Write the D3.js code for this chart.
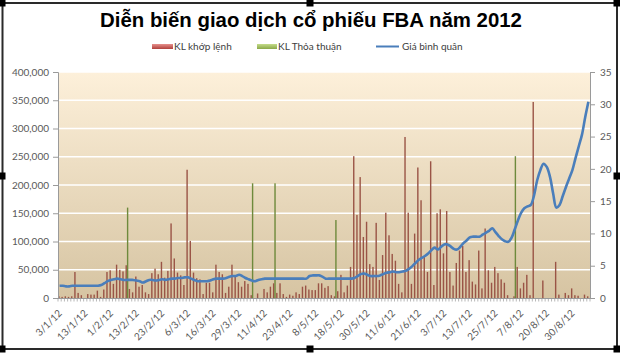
<!DOCTYPE html>
<html><head><meta charset="utf-8">
<script src="https://cdn.jsdelivr.net/npm/d3@7"></script>
<style>body{margin:0;background:#fff}</style>
</head><body><svg id="c" width="620" height="353"></svg>
<script>
const chartTitle = "Diễn biến giao dịch cổ phiếu FBA năm 2012";
const seriesNames = ["KL khớp lệnh", "KL Thỏa thuận", "Giá bình  quân"];
const tickLabels = ["3/1/12","13/1/12","1/2/12","13/2/12","23/2/12","6/3/12","16/3/12","29/3/12","11/4/12","23/4/12","8/5/12","18/5/12","30/5/12","11/6/12","21/6/12","3/7/12","13/7/12","25/7/12","7/8/12","20/8/12","30/8/12"];
const leftTicks = [0,50000,100000,150000,200000,250000,300000,350000,400000];
const rightTicks = [0,5,10,15,20,25,30,35];

// KL khớp lệnh (matched volume), one per trading day
const klKhopLenh = [
3000,2000,3000,2000,3000,46000,9000,5000,0,7000,
6000,6000,13000,2000,15000,46000,49000,25000,59000,50000,
47000,58000,16000,10000,38000,20000,23000,10000,7000,44000,
52000,42000,64000,36000,48000,132000,70000,45000,40000,23000,
227000,101000,45000,35000,33000,7000,27000,27000,10000,59000,
46000,42000,9000,20000,59000,40000,28000,20000,30000,25000,
5000,0,8000,0,16000,10000,20000,26000,9000,26000,
7000,2000,6000,4000,10000,7000,20000,22000,15000,14000,
14000,26000,26000,18000,
21000,5000,3000,12000,41000,
10000,22000,55000,251000,147000,214000,108000,135000,60000,55000,
133000,32000,76000,151000,111000,78000,66000,25000,10000,285000,
151000,25000,114000,231000,173000,73000,46000,242000,23000,150000,
157000,79000,154000,46000,22000,62000,84000,92000,46000,67000,
29000,24000,84000,17000,123000,49000,27000,55000,44000,33000,
27000,5000,0,3000,55000,17000,27000,41000,5000,347000,
0,0,31000,0,0,0,64000,6000,0,9000,
5000,17000,5000,4000,0,6000,3000];

// KL Thỏa thuận (negotiated volume): only on a few days
const thoaThuanDays = [21, 60, 67, 86, 142];
const thoaThuanValues = [160000, 203000, 203000, 138000, 251000];

// Giá bình quân (average price)
const giaBinhQuan = [
1.9,1.9,1.8,1.8,1.9,1.9,1.9,1.9,1.9,1.9,1.9,1.9,1.9,
2.0,2.3,2.6,2.8,2.9,3.0,2.9,2.8,
2.8,2.8,2.8,2.7,2.6,2.4,2.6,
2.8,2.8,2.7,2.8,2.9,2.8,2.9,3.0,
3.0,3.1,3.1,3.2,3.2,3.0,
2.8,2.6,2.6,2.6,2.6,2.7,
2.9,3.0,3.0,3.0,3.1,
3.3,3.4,3.4,3.6,3.4,3.1,2.9,2.7,2.6,
2.8,2.9,
3.0,3.0,3.0,3.0,3.0,3.0,3.0,3.0,3.0,3.0,3.0,3.0,3.0,3.0,
3.4,3.5,3.5,3.5,3.3,3.0,
3.0,3.0,3.0,3.0,3.0,3.0,3.0,3.0,
3.1,3.4,3.7,3.8,3.6,3.4,3.4,3.4,3.5,3.7,
3.9,4.0,4.1,4.0,4.0,4.1,4.2,4.5,4.9,5.4,
5.9,6.2,6.5,6.9,7.4,7.8,7.5,7.9,8.3,8.3,
8.0,7.6,7.5,7.9,8.5,8.9,9.4,9.5,9.5,9.5,
9.8,10.1,10.4,10.8,10.2,9.6,9.1,8.8,8.7,9.3,
10.6,12.0,13.2,13.9,14.2,14.4,15.8,18.2,19.8,20.8,
20.3,18.8,16.2,14.0,14.4,15.8,17.2,18.5,19.8,21.7,
23.5,25.3,28.0,30.4];

const N = klKhopLenh.length;
const labelEvery = 8;

const svg = d3.select("#c");
const defs = svg.append("defs");
const bg = defs.append("linearGradient").attr("id","bg").attr("x1",0).attr("y1",0).attr("x2",0).attr("y2",1);
bg.append("stop").attr("offset","0%").attr("stop-color","#fdf0da");
bg.append("stop").attr("offset","100%").attr("stop-color","#d6c4a2");
const gr = defs.append("linearGradient").attr("id","gr").attr("x1",0).attr("y1",0).attr("x2",0).attr("y2",1);
gr.append("stop").attr("offset","0%").attr("stop-color","#e6908c");
gr.append("stop").attr("offset","100%").attr("stop-color","#b0403c");
const gg = defs.append("linearGradient").attr("id","gg").attr("x1",0).attr("y1",0).attr("x2",0).attr("y2",1);
gg.append("stop").attr("offset","0%").attr("stop-color","#c4dc8a");
gg.append("stop").attr("offset","100%").attr("stop-color","#8aa848");

const L = 58, R = 590, T = 72, B = 298;
const x = d3.scaleBand().domain(d3.range(N)).range([L, R]);
const yL = d3.scaleLinear().domain([0, 400000]).range([B, T]);
const yR = d3.scaleLinear().domain([0, 35]).range([B, T]);
const bw = x.bandwidth();

// plot background
svg.append("rect").attr("x", L).attr("y", T).attr("width", R - L).attr("height", B - T).attr("fill", "url(#bg)");
// gridlines
svg.append("g").selectAll("line").data(leftTicks.slice(1)).join("line")
  .attr("x1", L).attr("x2", R).attr("y1", d => yL(d)).attr("y2", d => yL(d))
  .attr("stroke", "#ffffff").attr("stroke-width", 1.5);

// bars
const barW = 1.4;
svg.append("g").selectAll("rect").data(klKhopLenh.map((v,i)=>({v,i})).filter(d=>d.v>0)).join("rect")
  .attr("x", d => x(d.i) + bw/2 - barW)
  .attr("y", d => yL(d.v)).attr("width", barW).attr("height", d => B - yL(d.v))
  .attr("fill", "#9a5446");
svg.append("g").selectAll("rect").data(thoaThuanDays.map((d,k)=>({i:d, v:thoaThuanValues[k]}))).join("rect")
  .attr("x", d => x(d.i) + bw/2)
  .attr("y", d => yL(d.v)).attr("width", barW).attr("height", d => B - yL(d.v))
  .attr("fill", "#6e8a3c");

// price line
const line = d3.line().x((d,i) => x(i) + bw/2).y(d => yR(d)).curve(d3.curveCatmullRom.alpha(0.5));
svg.append("path").datum(giaBinhQuan).attr("d", line).attr("fill","none")
  .attr("stroke","#4a7ebb").attr("stroke-width",2.6).attr("stroke-linejoin","round");

// axes
const axisColor = "#9a9a9a", textColor = "#595959", font = "Lato, 'Open Sans', sans-serif";
const gl = svg.append("g").attr("transform", `translate(${L},0)`)
  .call(d3.axisLeft(yL).tickValues(leftTicks).tickFormat(d3.format(",")).tickSize(5).tickPadding(4));
const gRt = svg.append("g").attr("transform", `translate(${R},0)`)
  .call(d3.axisRight(yR).tickValues(rightTicks).tickSize(5).tickPadding(5));
[gl, gRt].forEach(g => {
  g.select(".domain").attr("stroke", axisColor);
  g.selectAll(".tick line").attr("stroke", axisColor);
  g.selectAll("text").attr("fill", textColor).style("font-family", font).style("font-size", "10px");
});

// category axis
const gb = svg.append("g");
gb.append("line").attr("x1", L).attr("x2", R).attr("y1", B + 0.5).attr("y2", B + 0.5).attr("stroke", axisColor);
gb.selectAll("line.t").data(d3.range(N + 1)).join("line").attr("class","t")
  .attr("x1", i => L + i * bw).attr("x2", i => L + i * bw)
  .attr("y1", B).attr("y2", B + 3.5).attr("stroke", axisColor).attr("stroke-width", 0.7);
gb.selectAll("text").data(tickLabels).join("text")
  .attr("transform", (d,k) => `translate(${x(k*labelEvery) + bw/2 + 3},${B + 16}) rotate(-45)`)
  .attr("text-anchor", "end")
  .attr("fill", textColor).style("font-family", font).style("font-size", "10px")
  .text(d => d);

// title
svg.append("text").attr("x", 311).attr("y", 27).attr("text-anchor","middle")
  .style("font-family","'Liberation Sans', Arial, sans-serif").style("font-weight","bold").style("font-size","20.4px")
  .attr("fill","#000").text(chartTitle);

// legend
const lg = svg.append("g").style("font-family", font).style("font-size","10px").attr("fill","#404040");
lg.append("rect").attr("x",152).attr("y",44).attr("width",21).attr("height",5).attr("fill","url(#gr)");
lg.append("text").attr("x",174).attr("y",50).text(seriesNames[0]);
lg.append("rect").attr("x",257).attr("y",44).attr("width",20).attr("height",5).attr("fill","url(#gg)");
lg.append("text").attr("x",278).attr("y",50).text(seriesNames[1]);
lg.append("line").attr("x1",376).attr("x2",399).attr("y1",46.5).attr("y2",46.5).attr("stroke","#4a7ebb").attr("stroke-width",2);
lg.append("text").attr("x",402).attr("y",50).text(seriesNames[2]);

// frame and selection handles
svg.append("rect").attr("x",2.5).attr("y",3).attr("width",614.5).attr("height",346).attr("fill","none").attr("stroke","#2a2a2a").attr("stroke-width",2);
const handles = [[2,3],[310,3],[617,3],[2,176],[617,176],[2,349],[310,349],[617,349]];
svg.append("g").selectAll("rect").data(handles).join("rect")
  .attr("x", d => d[0]-3.5).attr("y", d => d[1]-3.5).attr("width",7).attr("height",7).attr("fill","#000");
</script>
</body></html>
